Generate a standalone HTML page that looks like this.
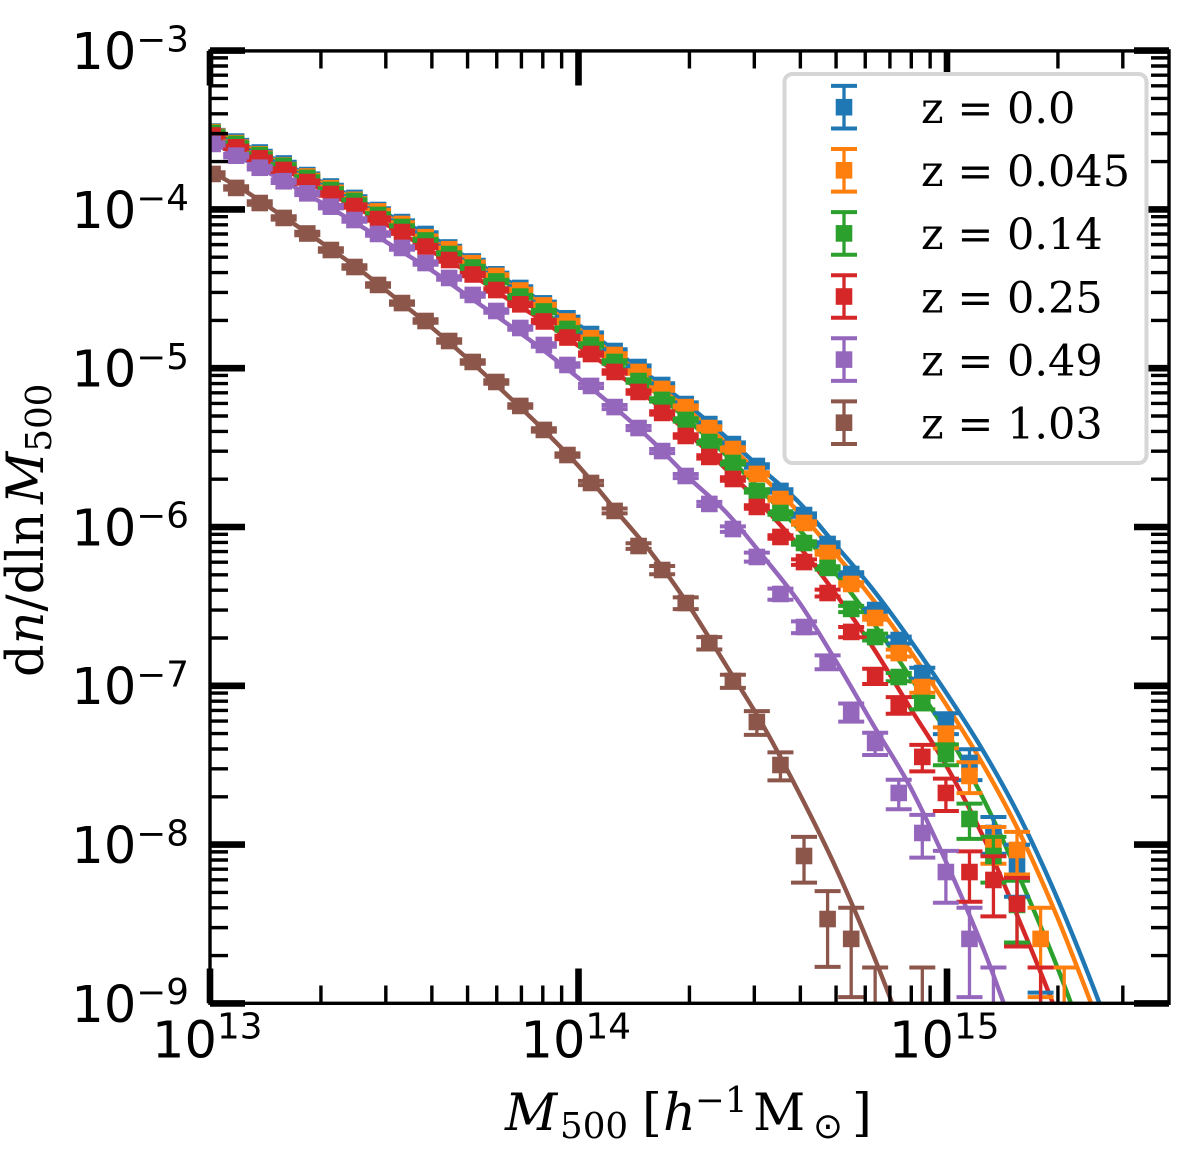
<!DOCTYPE html>
<html lang="en">
<head>
<meta charset="utf-8">
<title>Halo mass function at several redshifts</title>
<style>
html,body{margin:0;padding:0;background:#fff;overflow:hidden;width:1200px;height:1153px;}
svg{display:block;}
text{fill:#000;}
.tick{font-family:"DejaVu Sans","Liberation Sans",sans-serif;}
.serif{font-family:"DejaVu Serif","Liberation Serif",serif;}
</style>
</head>
<body>
<svg id="chart" xmlns="http://www.w3.org/2000/svg" width="1200" height="1153" viewBox="0 0 1200 1153">
  <defs>
    <clipPath id="plot-clip"><rect x="210" y="50.6" width="959" height="952.8"/></clipPath>
  </defs>
  <rect x="0" y="0" width="1200" height="1153" fill="#fff"/>
  <g id="curves" clip-path="url(#plot-clip)"></g>
  <g id="points" clip-path="url(#plot-clip)"></g>
  <g id="ticks"></g>
  <rect x="210" y="50.9" width="959" height="952.4" fill="none" stroke="#000" stroke-width="3.4"/>
  <g id="tick-labels"></g>
  <text class="serif" font-size="51" y="1130"><tspan x="505" font-style="italic" font-weight="normal">M</tspan><tspan x="560" y="1138" font-size="35.7">500</tspan><tspan x="642" y="1130">[</tspan><tspan x="663" font-style="italic">h</tspan><tspan x="695" y="1112" font-size="35.7">−1</tspan><tspan x="753" y="1130">M</tspan><tspan x="813" y="1138" font-size="35.7" style="font-family:'DejaVu Sans',sans-serif">⊙</tspan><tspan x="852" y="1130">]</tspan></text>
  <text class="serif" font-size="51" transform="translate(43,677) rotate(-90)"><tspan>d</tspan><tspan font-style="italic">n</tspan><tspan>/dln</tspan><tspan dx="8.5" font-style="italic">M</tspan><tspan dy="8" font-size="35.7">500</tspan></text>
  <g id="legend">
    <rect x="784.5" y="74" width="362" height="389" rx="8" ry="8" fill="#fff" stroke="#d6d6d6" stroke-width="4"/>
  </g>
</svg>
<script>
// Bin centres of the measured points: log10(M500)
const logMassBins = [13.007,13.071,13.135,13.200,13.264,13.328,13.392,13.456,13.521,13.585,13.649,13.713,13.777,13.842,13.906,13.970,14.034,14.098,14.163,14.227,14.291,14.355,14.419,14.484,14.548,14.612,14.676,14.740,14.805,14.869,14.933,14.997,15.061,15.126,15.190,15.254,15.318];

// Measured log10(dn/dlnM500); null = no point
const pointsZ000 = [-3.511,-3.574,-3.643,-3.712,-3.785,-3.857,-3.929,-4.005,-4.081,-4.156,-4.241,-4.329,-4.410,-4.496,-4.593,-4.687,-4.786,-4.893,-4.994,-5.107,-5.227,-5.353,-5.479,-5.617,-5.774,-5.926,-6.108,-6.297,-6.524,-6.713,-6.921,-7.235,-7.487,-7.928,-8.136,-9.232];
const pointsZ045 = [-3.515,-3.584,-3.654,-3.725,-3.794,-3.868,-3.941,-4.014,-4.093,-4.176,-4.252,-4.340,-4.420,-4.512,-4.606,-4.707,-4.812,-4.918,-5.025,-5.132,-5.246,-5.378,-5.510,-5.667,-5.825,-5.976,-6.165,-6.360,-6.574,-6.795,-7.009,-7.324,-7.569,-7.991,-8.035,-8.595,-9.074];
const pointsZ014 = [-3.520,-3.589,-3.659,-3.728,-3.803,-3.879,-3.948,-4.036,-4.112,-4.197,-4.282,-4.367,-4.455,-4.550,-4.644,-4.754,-4.855,-4.962,-5.082,-5.201,-5.327,-5.466,-5.598,-5.774,-5.913,-6.102,-6.259,-6.517,-6.694,-6.946,-7.109,-7.431,-7.840,-8.073,-8.381];
const pointsZ025 = [-3.536,-3.610,-3.679,-3.753,-3.829,-3.904,-3.980,-4.062,-4.144,-4.235,-4.320,-4.411,-4.509,-4.599,-4.707,-4.808,-4.912,-5.025,-5.151,-5.283,-5.428,-5.560,-5.699,-5.875,-6.064,-6.222,-6.417,-6.662,-6.939,-7.122,-7.449,-7.676,-8.174,-8.224,-8.375,-9.074];
const pointsZ049 = [-3.589,-3.663,-3.739,-3.824,-3.900,-3.984,-4.068,-4.156,-4.244,-4.339,-4.433,-4.540,-4.641,-4.748,-4.855,-4.981,-5.113,-5.246,-5.378,-5.523,-5.680,-5.856,-6.014,-6.190,-6.423,-6.631,-6.851,-7.166,-7.361,-7.676,-7.928,-8.174,-8.595,-9.074];
const pointsZ103 = [-3.778,-3.866,-3.961,-4.055,-4.153,-4.257,-4.364,-4.477,-4.591,-4.704,-4.830,-4.962,-5.088,-5.239,-5.390,-5.548,-5.724,-5.900,-6.121,-6.272,-6.480,-6.732,-6.971,-7.229,-7.500,-8.073,-8.470,-8.595,-9.074,null,-9.074];

// Relative (symmetric, linear) errors on each measured point
const errorsZ000 = [.025,.025,.025,.025,.025,.025,.025,.025,.025,.025,.025,.025,.025,.025,.025,.025,.025,.025,.025,.025,.025,.025,.025,.025,.025,.025,.025,.025,.025,.05,.08,.15,.22,.26,.36,.99];
const errorsZ045 = [.025,.025,.025,.025,.025,.025,.025,.025,.025,.025,.025,.025,.025,.025,.025,.025,.025,.025,.025,.025,.025,.025,.025,.025,.025,.025,.025,.025,.025,.05,.08,.15,.22,.26,.30,.57,.99];
const errorsZ014 = [.025,.025,.025,.025,.025,.025,.025,.025,.025,.025,.025,.025,.025,.025,.025,.025,.025,.025,.025,.025,.025,.025,.025,.025,.025,.025,.025,.045,.05,.06,.09,.15,.25,.32,.42];
const errorsZ025 = [.025,.025,.025,.025,.025,.025,.025,.025,.025,.025,.025,.025,.025,.025,.025,.025,.025,.025,.025,.025,.025,.025,.025,.025,.025,.04,.05,.075,.11,.12,.19,.23,.35,.41,.46,.99];
const errorsZ049 = [.025,.025,.025,.025,.025,.025,.025,.025,.025,.025,.025,.025,.025,.025,.025,.025,.03,.03,.03,.03,.03,.03,.04,.065,.08,.085,.10,.13,.16,.21,.30,.36,.57,.99];
const errorsZ103 = [.025,.025,.025,.025,.025,.025,.025,.025,.025,.025,.025,.025,.025,.025,.025,.025,.03,.035,.04,.06,.085,.09,.095,.17,.20,.32,.50,.57,.99,null,.99];

// Model curves: log10(M500) grid and log10(dn/dlnM500)
const curveLogMass = [13.0,13.1,13.2,13.3,13.4,13.5,13.6,13.7,13.8,13.9,14.0,14.1,14.2,14.3,14.4,14.5,14.6,14.7,14.8,14.9,15.0,15.1,15.2,15.3,15.4,15.5];
const curveZ000 = [-3.495,-3.602,-3.712,-3.824,-3.936,-4.055,-4.172,-4.307,-4.439,-4.581,-4.729,-4.893,-5.063,-5.239,-5.434,-5.642,-5.850,-6.121,-6.398,-6.713,-7.053,-7.418,-7.840,-8.344,-8.917,-9.546];
const curveZ045 = [-3.501,-3.608,-3.722,-3.832,-3.948,-4.068,-4.194,-4.320,-4.458,-4.597,-4.754,-4.918,-5.088,-5.271,-5.472,-5.686,-5.913,-6.177,-6.461,-6.782,-7.128,-7.506,-7.941,-8.463,-9.055,-9.672];
const curveZ014 = [-3.508,-3.621,-3.728,-3.848,-3.961,-4.087,-4.219,-4.351,-4.496,-4.641,-4.798,-4.962,-5.138,-5.334,-5.548,-5.781,-6.020,-6.297,-6.606,-6.946,-7.298,-7.720,-8.224,-8.778,-9.402];
const curveZ025 = [-3.520,-3.633,-3.747,-3.873,-3.992,-4.125,-4.263,-4.395,-4.553,-4.698,-4.861,-5.025,-5.208,-5.416,-5.636,-5.869,-6.127,-6.429,-6.763,-7.141,-7.512,-7.960,-8.501,-9.080,-9.767];
const curveZ049 = [-3.571,-3.696,-3.822,-3.955,-4.093,-4.238,-4.383,-4.547,-4.710,-4.880,-5.063,-5.252,-5.460,-5.693,-5.907,-6.184,-6.480,-6.851,-7.248,-7.638,-8.123,-8.665,-9.282,-9.800];
const curveZ103 = [-3.759,-3.892,-4.049,-4.206,-4.370,-4.553,-4.742,-4.943,-5.157,-5.378,-5.617,-5.894,-6.171,-6.499,-6.870,-7.248,-7.682,-8.155,-8.696,-9.295];

// Legend text and tick labels
const seriesLabels = ["z = 0.0","z = 0.045","z = 0.14","z = 0.25","z = 0.49","z = 1.03"];
const seriesKeys = ["z-0-0","z-0-045","z-0-14","z-0-25","z-0-49","z-1-03"];
const seriesColors = ["#1f77b4","#ff7f0e","#2ca02c","#d62728","#9467bd","#8c564b"];
const seriesPoints = [pointsZ000,pointsZ045,pointsZ014,pointsZ025,pointsZ049,pointsZ103];
const seriesErrors = [errorsZ000,errorsZ045,errorsZ014,errorsZ025,errorsZ049,errorsZ103];
const seriesCurves = [curveZ000,curveZ045,curveZ014,curveZ025,curveZ049,curveZ103];
const xTickExponents = [13,14,15];
const yTickExponents = [-3,-4,-5,-6,-7,-8,-9];
const minorMultipliers = [2,3,4,5,6,7,8,9];

function xScale(logM){ return 210 + (logM - 13) * 368.5; }
function yScale(logN){ return 50.4 + (-3 - logN) * 158.8; }

const NS = "http://www.w3.org/2000/svg";
function make(parent, tag, attrs){
  const node = document.createElementNS(NS, tag);
  for (const k in attrs) node.setAttribute(k, attrs[k]);
  parent.appendChild(node);
  return node;
}
function smoothPath(points){
  let d = "M" + points[0][0].toFixed(1) + " " + points[0][1].toFixed(1);
  for (let i = 0; i < points.length - 1; i++){
    const p0 = points[Math.max(i - 1, 0)];
    const p1 = points[i];
    const p2 = points[i + 1];
    const p3 = points[Math.min(i + 2, points.length - 1)];
    const c1x = p1[0] + (p2[0] - p0[0]) / 6;
    const c1y = p1[1] + (p2[1] - p0[1]) / 6;
    const c2x = p2[0] - (p3[0] - p1[0]) / 6;
    const c2y = p2[1] - (p3[1] - p1[1]) / 6;
    d += "C" + c1x.toFixed(1) + " " + c1y.toFixed(1) + " " + c2x.toFixed(1) + " " + c2y.toFixed(1) + " " + p2[0].toFixed(1) + " " + p2[1].toFixed(1);
  }
  return d;
}
function drawErrorBar(parent, cx, cy, yTop, yBottom, color){
  const stem = make(parent, "line", {x1:cx, x2:cx, y1:yTop, y2:yBottom, stroke:color, "stroke-width":3.3});
  
  
  const capTop = make(parent, "line", {x1:cx-13, x2:cx+13, y1:yTop, y2:yTop, stroke:color, "stroke-width":4});
  
  
  const capBottom = make(parent, "line", {x1:cx-13, x2:cx+13, y1:yBottom, y2:yBottom, stroke:color, "stroke-width":4});
  
  
  const marker = make(parent, "rect", {x:cx-8.3, y:cy-8.3, width:16.6, height:16.6, fill:color});
  
  
}

const curvesLayer = document.getElementById("curves");
const pointsLayer = document.getElementById("points");

seriesCurves.forEach(function(curve, s){
  const pts = curve.map(function(v, i){ return [xScale(curveLogMass[i]), yScale(v)]; });
  const line = make(curvesLayer, "path", {d:smoothPath(pts), fill:"none", stroke:seriesColors[s], "stroke-width":4.4, "stroke-linejoin":"round"});
  
  
});

seriesPoints.forEach(function(values, s){
  const group = make(pointsLayer, "g", {});
  
  
  values.forEach(function(v, i){
    if (v === null) return;
    const e = seriesErrors[s][i];
    const cx = xScale(logMassBins[i]);
    const up = v + Math.log10(1 + e);
    const down = v + Math.log10(Math.max(1 - e, 0.001));
    drawErrorBar(group, cx, yScale(v), yScale(up), Math.min(yScale(down), 1045), seriesColors[s]);
  });
});

const tickLayer = document.getElementById("ticks");
function tick(x1, y1, x2, y2, w, name){
  const t = make(tickLayer, "line", {x1:x1, y1:y1, x2:x2, y2:y2, stroke:"#000", "stroke-width":w});
  
  
}
xTickExponents.forEach(function(ex){
  const x = xScale(ex);
  tick(x, 1003.3, x, 968.5, 6.6, 'x-major-tick-bottom');
  tick(x, 50.9, x, 85.5, 6.6, 'x-major-tick-top');
  minorMultipliers.forEach(function(m){
    const mx = xScale(ex + Math.log10(m));
    if (mx > 1167) return;
    tick(mx, 1003.3, mx, 985.5, 3.4, 'x-minor-tick-bottom');
    tick(mx, 50.9, mx, 68.5, 3.4, 'x-minor-tick-top');
  });
});
yTickExponents.forEach(function(ex){
  const y = yScale(ex) + 0.2;
  tick(210, y, 245, y, 6.6, 'y-major-tick-left');
  tick(1169, y, 1134, y, 6.6, 'y-major-tick-right');
  if (ex === -3) return;
  minorMultipliers.forEach(function(m){
    const my = yScale(ex + Math.log10(m)) + 0.2;
    tick(210, my, 228, my, 3.4, 'y-minor-tick-left');
    tick(1169, my, 1151, my, 3.4, 'y-minor-tick-right');
  });
});

const labelLayer = document.getElementById("tick-labels");
function tickLabel(x, y, expText, expX, expY, name){
  const t = make(labelLayer, "text", {class:"tick", "font-size":51, x:x, y:y});
  
  
  t.textContent = "10";
  const sup = make(t, "tspan", {x:expX, y:expY, "font-size":35.7});
  sup.textContent = expText;
}
yTickExponents.forEach(function(ex){
  const y0 = yScale(ex) + 0.2;
  tickLabel(71.4, y0 + 18.4, "−" + Math.abs(ex), 136.4, y0 + 0.7, 'y-tick-label-' + Math.abs(ex));
});
xTickExponents.forEach(function(ex){
  const x0 = xScale(ex);
  tickLabel(x0 - 58, 1057.7, String(ex), x0 + 7, 1038.3, 'x-tick-label-' + ex);
});

const legend = document.getElementById("legend");
seriesLabels.forEach(function(label, s){
  const entry = make(legend, "g", {});
  
  
  const cy = 107.2 + 63.1 * s;
  drawErrorBar(entry, 844, cy, cy - 21.3, cy + 21.3, seriesColors[s]);
  const text = make(entry, "text", {class:"serif", "font-size":43, x:921, y:cy + 15.8});
  
  
  text.textContent = label;
});
</script>
</body>
</html>
